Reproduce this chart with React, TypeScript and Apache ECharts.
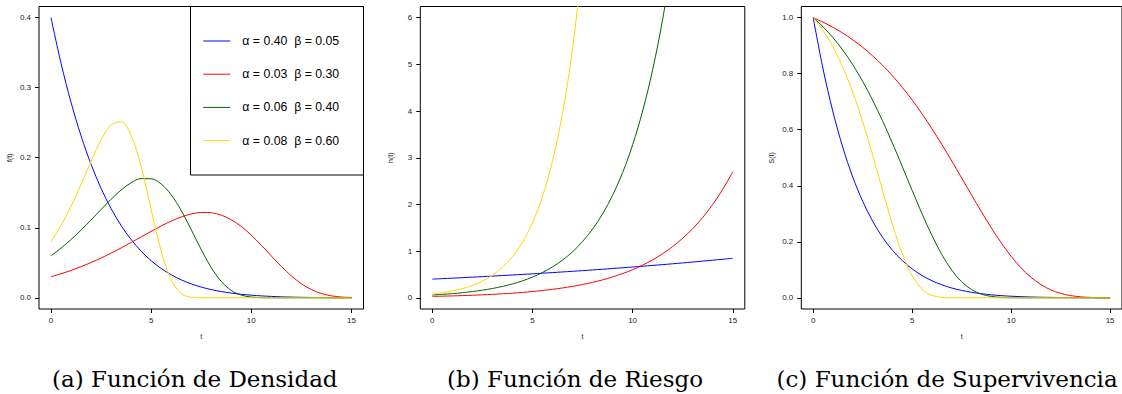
import React, { useEffect, useRef } from "react";
import * as echarts from "echarts";

// t grid (step 0.5)
const T = [0, 0.5, 1, 1.5, 2, 2.5, 3, 3.5, 4, 4.5, 5, 5.5, 6, 6.5, 7, 7.5, 8, 8.5, 9, 9.5, 10, 10.5, 11, 11.5, 12, 12.5, 13, 13.5, 14, 14.5, 15];

const NAMES = ["α = 0.40  β = 0.05", "α = 0.03  β = 0.30", "α = 0.06  β = 0.40", "α = 0.08  β = 0.60"];
const COLORS = ["#0000FF", "#FF0000", "#006400", "#FFD700"];

// (a) density f(t)
const F_BLUE = [0.4, 0.3349, 0.279, 0.2312, 0.1906, 0.1562, 0.1273, 0.1032, 0.0831, 0.0666, 0.0529, 0.0419, 0.0329, 0.0256, 0.0199, 0.0153, 0.0117, 0.0089, 0.0067, 0.005, 0.0037, 0.0027, 0.002, 0.0014, 0.001, 0.0007, 0.0005, 0.0004, 0.0002, 0.0002, 0.0001];
const F_RED = [0.03, 0.0343, 0.0391, 0.0445, 0.0504, 0.0568, 0.0638, 0.0712, 0.079, 0.087, 0.0949, 0.1026, 0.1095, 0.1154, 0.1197, 0.1218, 0.1214, 0.118, 0.1114, 0.1018, 0.0894, 0.075, 0.0597, 0.0448, 0.0312, 0.0201, 0.0117, 0.0061, 0.0028, 0.0011, 0.0004];
const F_GREEN = [0.06, 0.0709, 0.0832, 0.0967, 0.1111, 0.1261, 0.1407, 0.1539, 0.1643, 0.1702, 0.17, 0.1625, 0.1471, 0.1246, 0.0973, 0.0688, 0.0431, 0.0233, 0.0105, 0.0038, 0.0011, 0.0002, 0, 0, 0, 0, 0, 0, 0, 0, 0];
const F_YELLOW = [0.08, 0.1031, 0.1306, 0.162, 0.1949, 0.2254, 0.2468, 0.2513, 0.2317, 0.1871, 0.1261, 0.0667, 0.0254, 0.0062, 0.0008, 0.0001, 0, 0, 0, 0, 0, 0, 0, 0, 0, 0, 0, 0, 0, 0, 0];

// (b) hazard h(t)
const H_BLUE = [0.4, 0.4101, 0.4205, 0.4312, 0.4421, 0.4533, 0.4647, 0.4765, 0.4886, 0.5009, 0.5136, 0.5266, 0.5399, 0.5536, 0.5676, 0.582, 0.5967, 0.6118, 0.6273, 0.6432, 0.6595, 0.6762, 0.6933, 0.7109, 0.7288, 0.7473, 0.7662, 0.7856, 0.8055, 0.8259, 0.8468];
const H_RED = [0.03, 0.0349, 0.0405, 0.047, 0.0547, 0.0635, 0.0738, 0.0857, 0.0996, 0.1157, 0.1345, 0.1562, 0.1815, 0.2109, 0.245, 0.2846, 0.3307, 0.3842, 0.4464, 0.5186, 0.6026, 0.7001, 0.8134, 0.945, 1.098, 1.2756, 1.4821, 1.7219, 2.0006, 2.3243, 2.7005];
const H_GREEN = [0.06, 0.0733, 0.0895, 0.1093, 0.1335, 0.1631, 0.1992, 0.2433, 0.2972, 0.363, 0.4433, 0.5415, 0.6614, 0.8078, 0.9867, 1.2051, 1.472, 1.7979, 2.1959, 2.6821, 3.2759, 4.0012, 4.8871, 5.9691, 7.2906];
const H_YELLOW = [0.08, 0.108, 0.1458, 0.1968, 0.2656, 0.3585, 0.484, 0.6533, 0.8819, 1.1904, 1.6068, 2.169, 2.9279, 3.9522, 5.3349, 7.2014];

// (c) survival S(t)
const S_BLUE = [1, 0.8167, 0.6635, 0.5363, 0.4311, 0.3447, 0.274, 0.2165, 0.1701, 0.1329, 0.1031, 0.0795, 0.0609, 0.0463, 0.035, 0.0263, 0.0196, 0.0145, 0.0106, 0.0077, 0.0056, 0.004, 0.0028, 0.002, 0.0014, 0.001, 0.0007, 0.0004, 0.0003, 0.0002, 0.0001];
const S_RED = [1, 0.984, 0.9656, 0.9448, 0.9211, 0.8943, 0.8642, 0.8305, 0.7929, 0.7515, 0.706, 0.6566, 0.6035, 0.5472, 0.4884, 0.4279, 0.367, 0.3071, 0.2496, 0.1962, 0.1483, 0.1071, 0.0734, 0.0474, 0.0285, 0.0157, 0.0079, 0.0036, 0.0014, 0.0005, 0.0001];
const S_GREEN = [1, 0.9673, 0.9289, 0.884, 0.8321, 0.7728, 0.7061, 0.6324, 0.5527, 0.4689, 0.3835, 0.3001, 0.2224, 0.1542, 0.0986, 0.0571, 0.0293, 0.013, 0.0048, 0.0014, 0.0003, 0.0001, 0, 0, 0, 0, 0, 0, 0, 0, 0];
const S_YELLOW = [1, 0.9544, 0.8962, 0.8232, 0.7339, 0.6286, 0.51, 0.3846, 0.2628, 0.1571, 0.0785, 0.0308, 0.0087, 0.0016, 0.0002, 0, 0, 0, 0, 0, 0, 0, 0, 0, 0, 0, 0, 0, 0, 0, 0];

const X_TICKS = [0, 5, 10, 15];
const F_TICKS = [0, 0.1, 0.2, 0.3, 0.4];
const H_TICKS = [0, 1, 2, 3, 4, 5, 6];
const S_TICKS = [0, 0.2, 0.4, 0.6, 0.8, 1.0];

const CAPTIONS = ["(a) Función de Densidad", "(b) Función de Riesgo", "(c) Función de Supervivencia"];
const Y_NAMES = ["f(t)", "h(t)", "S(t)"];

const SANS = "'Liberation Sans', Arial, Helvetica, sans-serif";

export default function App() {
  const ref = useRef<HTMLDivElement>(null);
  useEffect(() => {
    const chart = echarts.init(ref.current as HTMLDivElement, null, { renderer: "svg" });

    const grids = [
      { left: 39, top: 6.5, width: 324.5, height: 302.5 },
      { left: 420.3, top: 6.5, width: 324.5, height: 302.5 },
      { left: 801.3, top: 6.5, width: 324.5, height: 302.5 },
    ].map((g) => ({ ...g, show: true, borderColor: "#000", borderWidth: 1, backgroundColor: "transparent" }));

    const xAxes = [0, 1, 2].map((i) => ({
      type: "value",
      gridIndex: i,
      min: -0.6,
      max: 15.6,
      axisLine: { show: false, onZero: false },
      splitLine: { show: false },
      axisTick: { show: true, length: 4, lineStyle: { color: "#000", width: 1 }, customValues: X_TICKS },
      axisLabel: { customValues: X_TICKS, fontSize: 8, margin: 7, color: "#222", fontFamily: SANS },
      name: "t",
      nameLocation: "middle",
      nameGap: 24,
      nameTextStyle: { fontSize: 7, color: "#222", fontFamily: SANS },
    }));

    const yDefs = [
      { min: -0.016, max: 0.416, ticks: F_TICKS, fmt: (v: number) => v.toFixed(1) },
      { min: -0.24, max: 6.24, ticks: H_TICKS, fmt: (v: number) => String(Math.round(v)) },
      { min: -0.04, max: 1.04, ticks: S_TICKS, fmt: (v: number) => v.toFixed(1) },
    ];
    const yAxes = yDefs.map((d, i) => ({
      type: "value",
      gridIndex: i,
      min: d.min,
      max: d.max,
      axisLine: { show: false, onZero: false },
      splitLine: { show: false },
      axisTick: { show: true, length: 4, lineStyle: { color: "#000", width: 1 }, customValues: d.ticks },
      axisLabel: { customValues: d.ticks, fontSize: 8, margin: 8, color: "#222", fontFamily: SANS, formatter: d.fmt },
      name: Y_NAMES[i],
      nameLocation: "middle",
      nameGap: 26,
      nameTextStyle: { fontSize: 7, color: "#222", fontFamily: SANS },
    }));

    const panels = [
      [F_BLUE, F_RED, F_GREEN, F_YELLOW],
      [H_BLUE, H_RED, H_GREEN, H_YELLOW],
      [S_BLUE, S_RED, S_GREEN, S_YELLOW],
    ];
    const series: any[] = [];
    panels.forEach((arrs, gi) => {
      arrs.forEach((arr, si) => {
        series.push({
          type: "line",
          name: NAMES[si],
          xAxisIndex: gi,
          yAxisIndex: gi,
          data: arr.map((v, k) => [T[k], v]),
          symbol: "none",
          smooth: 0.35,
          clip: true,
          silent: true,
          lineStyle: { color: COLORS[si], width: 1 },
          itemStyle: { color: COLORS[si] },
          emphasis: { disabled: true },
        });
      });
    });

    const captionX = [52, 447, 776.5];
    const graphic: any[] = [
      {
        type: "rect",
        shape: { x: 190.5, y: 6.5, width: 173, height: 168.5 },
        style: { fill: "none", stroke: "#000", lineWidth: 1 },
        z: 10,
      },
      ...CAPTIONS.map((c, i) => ({
        type: "text",
        x: captionX[i],
        y: 379,
        style: {
          text: c,
          fill: "#000",
          font: "23px 'DejaVu Serif', serif",
          textAlign: "left",
          textVerticalAlign: "middle",
        },
      })),
    ];

    chart.setOption({
      animation: false,
      backgroundColor: "#fff",
      grid: grids,
      xAxis: xAxes,
      yAxis: yAxes,
      series,
      legend: {
        data: NAMES,
        orient: "vertical",
        left: 203.3,
        top: 35,
        padding: 0,
        icon: "rect",
        itemWidth: 27,
        itemHeight: 1,
        itemGap: 21.2,
        selectedMode: false,
        formatter: (n: string) => n.replace("  ", " \u00a0"),
        textStyle: { fontSize: 12.3, color: "#000", fontFamily: SANS, padding: [0, 0, 0, 7] },
      },
      graphic,
    });
    return () => chart.dispose();
  }, []);
  return (
    <div
      ref={ref}
      style={{ position: "fixed", left: 0, top: 0, width: 1122, height: 394, background: "#fff" }}
    />
  );
}
